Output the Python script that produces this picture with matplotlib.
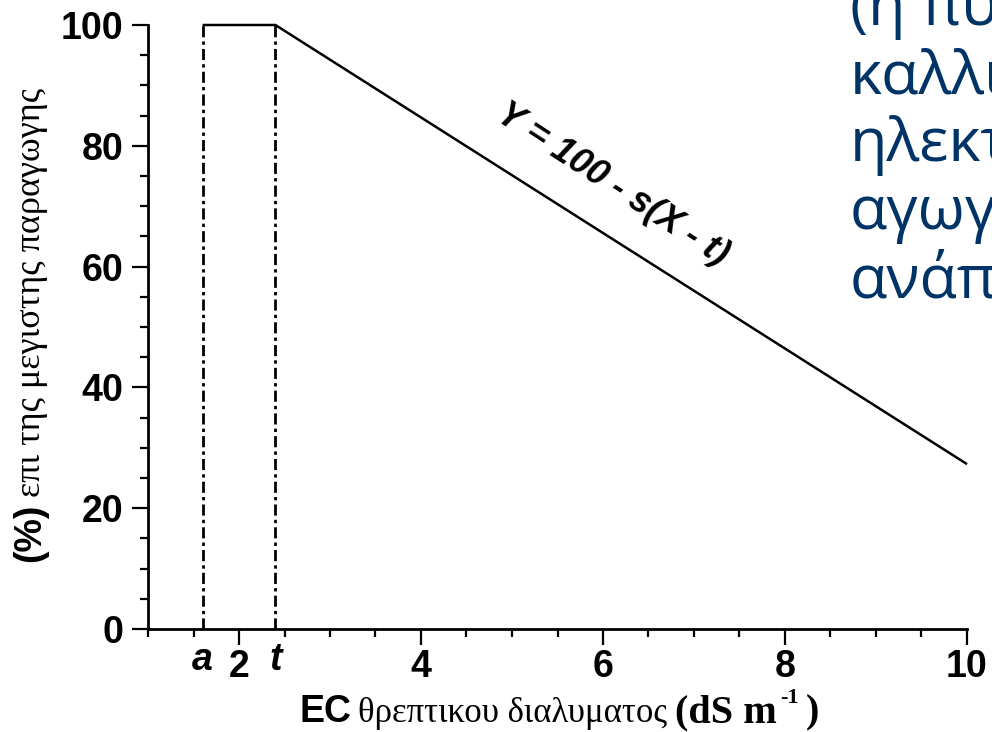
import matplotlib.pyplot as plt
import numpy as np

# response curve: Y = 100 - s(X - t)
a_val = 1.6
t_val = 2.4
x_pts = [a_val, t_val, 10.0]
y_pts = [100, 100, 27.3]

x_major = [2, 4, 6, 8, 10]
x_major_labels = ['2', '4', '6', '8', '10']
y_major = [0, 20, 40, 60, 80, 100]

side_lines = ['(η πυ', 'καλλι', 'ηλεκτ', 'αγωγ', 'ανάπ']

W, H = 992, 732
fig = plt.figure(figsize=(W / 100, H / 100), dpi=100)
ax = fig.add_axes([148 / W, 1 - 629 / H, (967 - 148) / W, (629 - 25) / H])

ax.plot(x_pts, y_pts, color='black', lw=1.8, clip_on=False, solid_capstyle='butt')
ax.vlines([a_val, t_val], 0, 100, colors='black', lw=2,
          linestyles=[(0, (4, 1.5, 1.2, 1.5))], clip_on=False)

ax.set_xlim(1, 10)
ax.set_ylim(0, 100)
for s in ['top', 'right']:
    ax.spines[s].set_visible(False)
for s in ['left', 'bottom']:
    ax.spines[s].set_linewidth(2)

tick_font = dict(family='Liberation Sans', weight='bold', size=27)
ax.set_xticks(x_major)
ax.set_xticklabels(x_major_labels, fontdict=tick_font)
ax.set_xticks(np.arange(1, 10.01, 0.5), minor=True)
ax.set_yticks(y_major)
ax.set_yticklabels([str(v) for v in y_major], fontdict=tick_font)
ax.set_yticks(np.arange(0, 101, 5), minor=True)
ax.tick_params(which='major', length=11.5, width=1.6, direction='out')
ax.tick_params(which='minor', length=5.8, width=1.6, direction='out')
ax.tick_params(axis='x', which='major', pad=3)
ax.tick_params(axis='y', which='major', pad=6)

# a and t markers under the axis
for val, lab in [(a_val, 'a'), (t_val, 't')]:
    ax.text(val, -2.2, lab, ha='center', va='top', family='Liberation Sans',
            weight='bold', style='italic', size=27)

ax.text(6.1, 73.5, 'Y = 100 - s(X - t)', rotation=-33, ha='center', va='center',
        family='Liberation Sans', weight='bold', style='italic', size=26,
        rotation_mode='anchor')

fig.canvas.draw()
r = fig.canvas.get_renderer()


def run_h(x0, y0, parts):
    # lay pieces of text one after another along a line (pixel coords)
    x = x0
    for txt, kw, dy, gap in parts:
        t = fig.text(x / W, 1 - (y0 - dy) / H, txt, ha='left', va='baseline', **kw)
        x = t.get_window_extent(r).x1 + gap


def run_v(x0, y0, parts):
    y = y0
    for txt, kw, dx, gap in parts:
        t = fig.text((x0 + dx) / W, 1 - y / H, txt, ha='left', va='bottom',
                     rotation=90, rotation_mode='anchor', **kw)
        bb = t.get_window_extent(r)
        y = H - bb.y1 - gap


sans_b = dict(family='Liberation Sans', weight='bold', size=27)
serif_b = dict(family='Liberation Serif', weight='bold', size=29)

run_h(300, 722, [
    ('EC', sans_b, 0, 6),
    ('θρεπτικου διαλυματος', dict(family='Liberation Serif', size=25), 0, 8),
    ('(dS m', serif_b, 0, 3),
    ('-1', dict(family='Liberation Serif', weight='bold', size=16), 19, 7),
    (')', serif_b, 0, 0),
])

run_v(48, 562, [
    ('(%)', sans_b, 0, 7),
    ('επι της μεγιστης παραγωγης', dict(family='Liberation Serif', size=26), 0, 0),
])

for i, line in enumerate(side_lines):
    fig.text(850 / W, 1 - (25 + 68 * i) / H, line, ha='left', va='baseline',
             family='Open Sans', size=44, color='#003366')

fig.savefig('out.png', dpi=100)
